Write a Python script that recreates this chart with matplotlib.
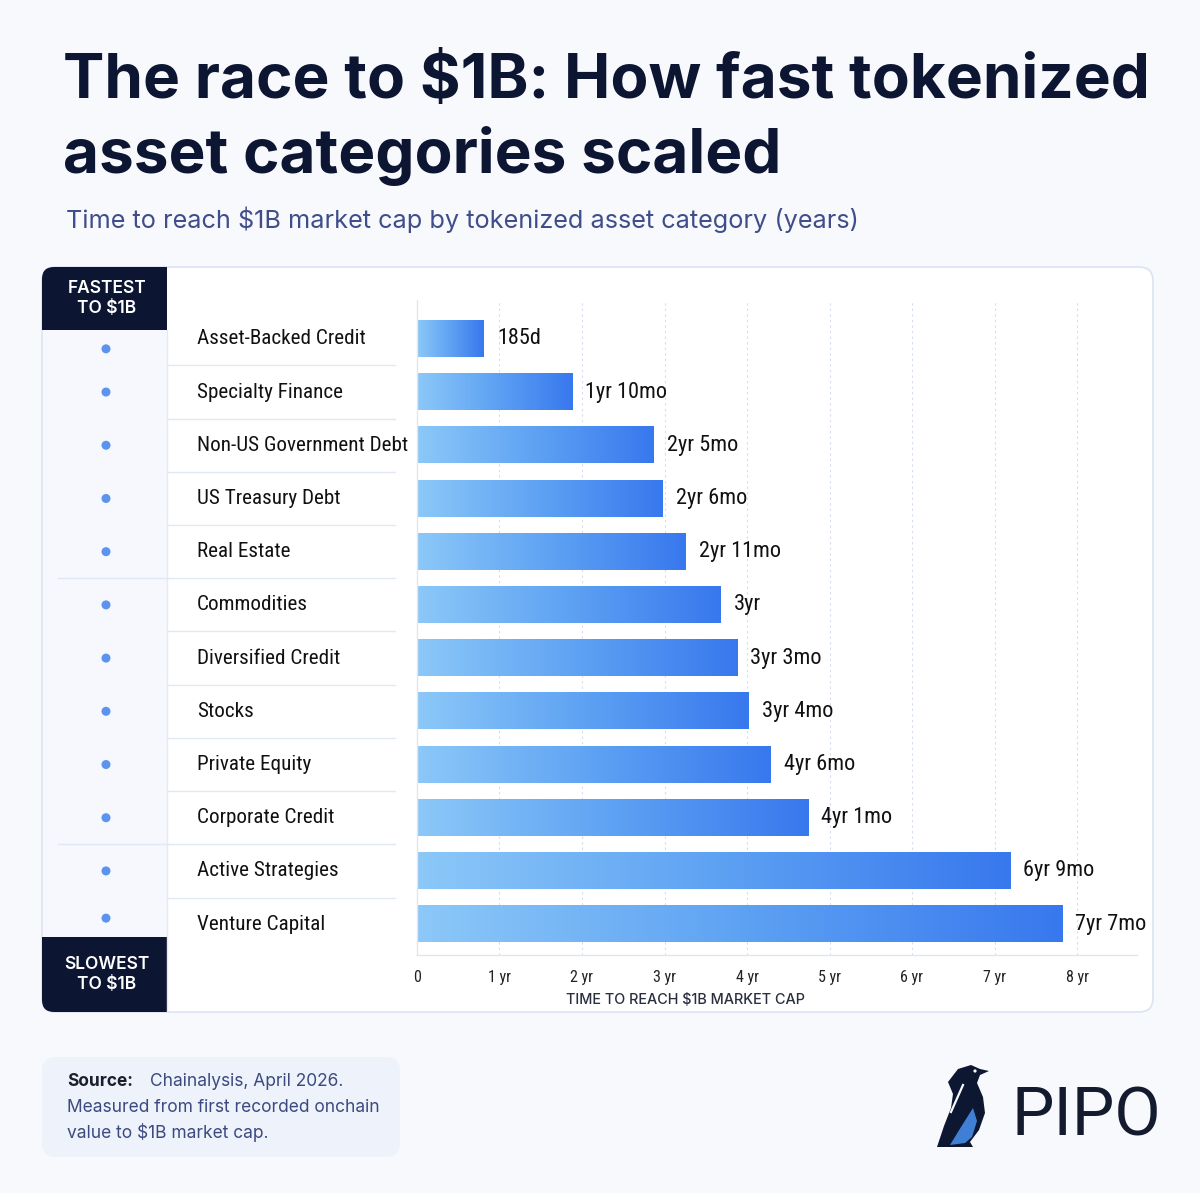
import numpy as np
import matplotlib
matplotlib.use("Agg")
import matplotlib.pyplot as plt
from matplotlib import font_manager
from matplotlib.patches import FancyBboxPatch, Rectangle, Polygon, Circle
from matplotlib.colors import LinearSegmentedColormap

categories = ["Asset-Backed Credit", "Specialty Finance", "Non-US Government Debt",
              "US Treasury Debt", "Real Estate", "Commodities", "Diversified Credit",
              "Stocks", "Private Equity", "Corporate Credit", "Active Strategies",
              "Venture Capital"]
# bar lengths as drawn in the reference (years)
years = [0.81, 1.88, 2.87, 2.98, 3.26, 3.68, 3.88, 4.02, 4.29, 4.74, 7.19, 7.82]
value_labels = ["185d", "1yr 10mo", "2yr 5mo", "2yr 6mo", "2yr 11mo", "3yr",
                "3yr 3mo", "3yr 4mo", "4yr 6mo", "4yr 1mo", "6yr 9mo", "7yr 7mo"]
tick_years = [0, 1, 2, 3, 4, 5, 6, 7, 8]
tick_labels = ["0", "1 yr", "2 yr", "3 yr", "4 yr", "5 yr", "6 yr", "7 yr", "8 yr"]

NAVY = "#0c1532"
BG = "#f8f9fc"

# a narrow face if one is around, Roboto otherwise
have = {f.name for f in font_manager.fontManager.ttflist}
narrow = [f for f in ["Liberation Sans Narrow", "DejaVu Sans Condensed", "Roboto Condensed"]
          if f in have]
NARROW = narrow[0] if narrow else "Roboto"
NSIZE = 15.2 if narrow else 14.5

W, H = 1200, 1193
fig = plt.figure(figsize=(W / 100, H / 100), dpi=100, facecolor=BG)

# pixel-space layer for the decoration
bg = fig.add_axes([0, 0, 1, 1], zorder=0)
bg.set_xlim(0, W)
bg.set_ylim(H, 0)
bg.axis("off")

bg.text(63, 82, "The race to $1B: How fast tokenized", fontsize=44.7, fontweight="bold",
        family="Inter", color=NAVY, va="center", ha="left")
bg.text(63, 156, "asset categories scaled", fontsize=44.7, fontweight="bold",
        family="Inter", color=NAVY, va="center", ha="left")
bg.text(66, 220, "Time to reach $1B market cap by tokenized asset category (years)",
        fontsize=18.2, family="Inter", color="#3f4d8a", va="center", ha="left")

# main panel
bg.add_patch(FancyBboxPatch((42, 267), 1111, 745, boxstyle="round,pad=0,rounding_size=14",
                            fc="white", ec="#dbe4f3", lw=1.2))
bg.add_patch(Rectangle((43, 330), 124, 607, fc="#f6f8fd", ec="none"))
bg.plot([167, 167], [330, 1011], color="#e3e9f5", lw=1)
for top, txt, style in [(267, "FASTEST\nTO $1B", "top"), (937, "SLOWEST\nTO $1B", "bot")]:
    hgt = 63 if style == "top" else 75
    bg.add_patch(FancyBboxPatch((42, top), 125, hgt, boxstyle="round,pad=0,rounding_size=12",
                                fc=NAVY, ec="none"))
    # square off the inner corners
    if style == "top":
        bg.add_patch(Rectangle((42, top + 20), 125, hgt - 20, fc=NAVY, ec="none"))
    else:
        bg.add_patch(Rectangle((42, top), 125, hgt - 20, fc=NAVY, ec="none"))
    bg.add_patch(Rectangle((100, top), 67, hgt, fc=NAVY, ec="none"))
    bg.text(107, top + hgt / 2, txt, color="white", fontsize=12.5, fontweight="semibold",
            family="Inter", ha="center", va="center", linespacing=1.25)

# chart axes
x0, x1, y_top, y_bot = 417, 1137, 300, 955
ax = fig.add_axes([x0 / W, (H - y_bot) / H, (x1 - x0) / W, (y_bot - y_top) / H], zorder=1)
ax.patch.set_alpha(0)
n = len(categories)
ylo, yhi = n - 1 + 0.58, -0.73
px_per_row = (y_bot - y_top) / (ylo - yhi)
xmax = 8 + (x1 - 1077) / 82.5

cmap = LinearSegmentedColormap.from_list("bar", ["#8cc8f8", "#5ea2f3", "#3878ee"])
grad = np.linspace(0, 1, 256).reshape(1, -1)
bar_h = 0.68
for i, (v, lab) in enumerate(zip(years, value_labels)):
    ax.imshow(grad, cmap=cmap, aspect="auto", extent=(0, v, i + bar_h / 2, i - bar_h / 2),
              zorder=2, interpolation="bilinear")
    ax.text(v + 0.16, i, lab, fontsize=16, family=NARROW, color="#111111",
            va="center", ha="left")

for t in tick_years[1:]:
    ax.axvline(t, color="#d3ddee", lw=0.8, ls=(0, (2, 3)), zorder=1)
ax.set_xlim(0, xmax)
ax.set_ylim(ylo, yhi)
ax.set_xticks(tick_years)
ax.set_xticklabels(tick_labels, family=NARROW, fontsize=11.5, color="#222222")
ax.set_yticks([])
ax.tick_params(axis="x", length=0, pad=11)
for s in ["top", "right"]:
    ax.spines[s].set_visible(False)
for s in ["left", "bottom"]:
    ax.spines[s].set_color("#dfe6f2")
    ax.spines[s].set_linewidth(1)
ax.set_xlabel("TIME TO REACH $1B MARKET CAP", fontsize=10.4, family="Inter",
              fontweight="medium", color="#2a2f3e")
ax.xaxis.set_label_coords((686 - x0) / (x1 - x0), -(993 - y_bot) / (y_bot - y_top))

# category labels, dots and separators in pixel space
dot_shift = [10] + [0] * (n - 2) + [-6]
for i, name in enumerate(categories):
    yc = y_top + (i - yhi) * px_per_row
    bg.text(197, yc, name, fontsize=NSIZE, family=NARROW, color="#111111",
            va="center", ha="left")
    bg.add_patch(Circle((106, yc + dot_shift[i]), 4.5, fc="#5b93ee", ec="none"))
    if i < n - 1:
        yl = yc + px_per_row / 2
        bg.plot([167, 395], [yl, yl], color="#e1e8f4", lw=1)
        if i in (4, 9):
            bg.plot([58, 167], [yl, yl], color="#e1e8f4", lw=1)

# source box
bg.add_patch(FancyBboxPatch((42, 1057), 358, 100, boxstyle="round,pad=0,rounding_size=14",
                            fc="#eef2fa", ec="none"))
bg.text(67, 1082, "Source:", fontsize=12.5, fontweight="bold", family="Inter",
        color="#1a1f2e", va="center")
bg.text(150, 1082, "Chainalysis, April 2026.", fontsize=12.5, family="Inter",
        color="#3b4a80", va="center")
bg.text(67, 1108, "Measured from first recorded onchain", fontsize=12.5, family="Inter",
        color="#3b4a80", va="center")
bg.text(67, 1133, "value to $1B market cap.", fontsize=12.5, family="Inter",
        color="#3b4a80", va="center")

# PIPO logo
body = [(948, 1082), (958, 1069), (971, 1065), (980, 1069), (989, 1071), (980, 1075),
        (977, 1083), (983, 1097), (985, 1113), (979, 1130), (970, 1142), (973, 1147),
        (955, 1147), (937, 1147), (944, 1126), (951, 1108), (953, 1094)]
bg.add_patch(Polygon(body, closed=True, fc="#0e1731", ec="none"))
belly = [(973, 1108), (977, 1121), (972, 1137), (965, 1143), (950, 1145), (961, 1127)]
bg.add_patch(Polygon(belly, closed=True, fc="#3f7fd6", ec="none"))
bg.plot([963, 951], [1085, 1112], color=BG, lw=1.6)
bg.add_patch(Circle((975, 1071), 1.6, fc="white", ec="none"))
bg.text(1086, 1117, "PIPO", fontsize=48.5, family="Roboto", fontweight="normal",
        color="#141b2e", ha="center", va="center")

fig.savefig("out.png", dpi=100, facecolor=BG)
